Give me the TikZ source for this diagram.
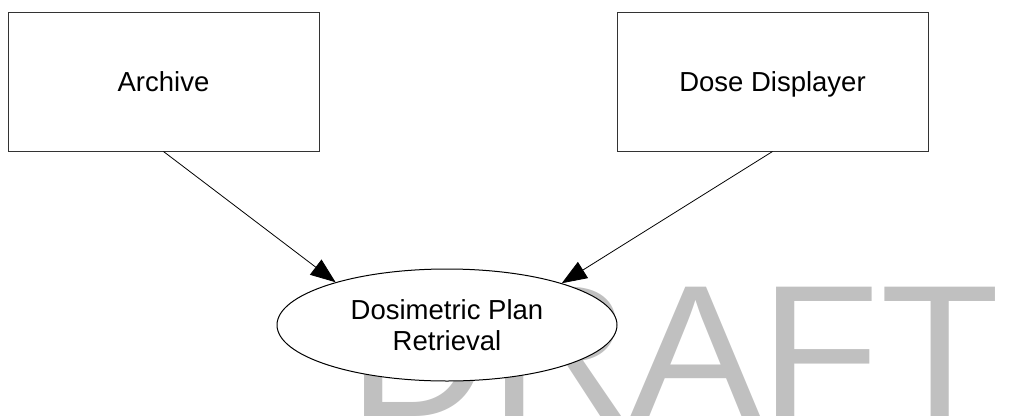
\documentclass[tikz,border=0pt]{standalone}
\usepackage{fontspec}
\setmainfont{Liberation Sans}
\usetikzlibrary{shapes.geometric,arrows.meta}
\definecolor{wmgray}{HTML}{C0C0C0}
\tikzset{
  block/.style={draw=black!80, line width=1pt, fill=white, minimum width=311pt, minimum height=139pt, inner sep=0pt, text height=19.7pt, text depth=0pt, font=\fontsize{27.5pt}{32pt}\selectfont},
  usecase/.style={ellipse, draw=black, line width=1pt, fill=white, minimum width=340pt, minimum height=112pt, inner sep=0pt, align=center, font=\fontsize{27.5pt}{31pt}\selectfont},
  flow/.style={draw=black, line width=0.8pt, -{Triangle[length=25pt,width=19pt]}},
  watermark/.style={text=wmgray, inner sep=0pt, anchor=base west, font=\fontsize{188pt}{188pt}\selectfont}
}
\begin{document}
\begin{tikzpicture}[x=1pt,y=-1pt]
\useasboundingbox (0,0) rectangle (1036,418);
\clip (0,0) rectangle (1036,418);
\node[watermark, xscale=1.04] (wm) at (348,416) {DRAFT};
\node[block] (archive) at (163.5,81.5) {Archive};
\node[block] (dose) at (772.5,81.5) {Dose Displayer};
\node[usecase] (dpr) at (447,325) {Dosimetric Plan\\Retrieval};
\draw[flow] (archive.south) -- (dpr.159);
\draw[flow] (dose.south) -- (dpr.20);
\end{tikzpicture}
\end{document}
